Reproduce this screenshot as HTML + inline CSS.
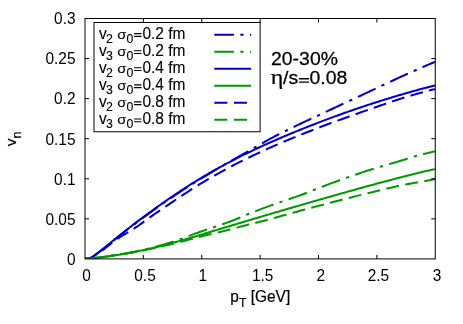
<!DOCTYPE html>
<html><head><meta charset="utf-8"><title>v_n vs p_T</title>
<style>
html,body{margin:0;padding:0;background:#fff;}
svg{display:block;will-change:transform;}
text{font-family:"Liberation Sans",sans-serif;fill:#000;stroke:#000;}
.lg text{font-size:15.60px;stroke-width:0.10px}.lg .s{font-size:12.40px}
.tk text{font-size:15.60px;stroke-width:0.00px}.tk .s{font-size:12.40px}
.bg text{font-size:18.70px;stroke-width:0.25px}
.sym text{font-family:"Liberation Serif",serif;font-size:21.50px;stroke-width:0.25px}
</style></head><body>
<svg width="463" height="324" viewBox="0 0 463 324">
<rect x="0" y="0" width="463" height="324" fill="#fff"/>
<defs><clipPath id="c"><rect x="85.00" y="18.50" width="350.25" height="240.40"/></clipPath></defs>
<g clip-path="url(#c)" fill="none" stroke-width="2.05" stroke-linejoin="round">
<path d="M85.0,258.90 L87.0,258.74 L89.0,258.42 L91.0,257.85 L93.0,256.71 L95.0,255.13 L97.0,253.64 L99.0,252.21 L101.0,250.72 L103.0,249.17 L105.0,247.59 L107.0,245.98 L109.0,244.35 L111.0,242.70 L113.0,241.03 L115.0,239.35 L117.0,237.69 L119.0,236.05 L121.0,234.46 L123.0,232.88 L125.0,231.31 L127.0,229.75 L129.0,228.20 L131.0,226.66 L133.0,225.13 L135.0,223.60 L137.0,222.09 L139.0,220.62 L141.0,219.17 L143.0,217.73 L145.0,216.30 L147.0,214.87 L149.0,213.43 L151.0,211.98 L153.0,210.53 L155.0,209.10 L157.0,207.67 L159.0,206.25 L161.0,204.84 L163.0,203.44 L165.0,202.05 L167.0,200.67 L169.0,199.29 L171.0,197.93 L173.0,196.57 L175.0,195.23 L177.0,193.89 L179.0,192.57 L181.0,191.26 L183.0,189.95 L185.0,188.66 L187.0,187.37 L189.0,186.10 L191.0,184.84 L193.0,183.59 L195.0,182.34 L197.0,181.11 L199.0,179.90 L201.0,178.69 L203.0,177.48 L205.0,176.27 L207.0,175.05 L209.0,173.84 L211.0,172.64 L213.0,171.43 L215.0,170.23 L217.0,169.04 L219.0,167.86 L221.0,166.68 L223.0,165.52 L225.0,164.37 L227.0,163.22 L229.0,162.09 L231.0,160.95 L233.0,159.82 L235.0,158.70 L237.0,157.58 L239.0,156.46 L241.0,155.35 L243.0,154.23 L245.0,153.12 L247.0,152.01 L249.0,150.89 L251.0,149.76 L253.0,148.61 L255.0,147.45 L257.0,146.29 L259.0,145.13 L261.0,143.97 L263.0,142.82 L265.0,141.68 L267.0,140.55 L269.0,139.45 L271.0,138.36 L273.0,137.30 L275.0,136.25 L277.0,135.22 L279.0,134.20 L281.0,133.20 L283.0,132.20 L285.0,131.21 L287.0,130.23 L289.0,129.26 L291.0,128.29 L293.0,127.32 L295.0,126.36 L297.0,125.40 L299.0,124.44 L301.0,123.49 L303.0,122.54 L305.0,121.60 L307.0,120.67 L309.0,119.73 L311.0,118.80 L313.0,117.87 L315.0,116.94 L317.0,116.01 L319.0,115.08 L321.0,114.14 L323.0,113.21 L325.0,112.27 L327.0,111.34 L329.0,110.40 L331.0,109.46 L333.0,108.52 L335.0,107.59 L337.0,106.65 L339.0,105.71 L341.0,104.78 L343.0,103.85 L345.0,102.91 L347.0,101.98 L349.0,101.05 L351.0,100.12 L353.0,99.18 L355.0,98.25 L357.0,97.32 L359.0,96.38 L361.0,95.45 L363.0,94.52 L365.0,93.58 L367.0,92.65 L369.0,91.72 L371.0,90.78 L373.0,89.85 L375.0,88.92 L377.0,87.98 L379.0,87.03 L381.0,86.09 L383.0,85.15 L385.0,84.20 L387.0,83.26 L389.0,82.32 L391.0,81.39 L393.0,80.45 L395.0,79.53 L397.0,78.60 L399.0,77.69 L401.0,76.77 L403.0,75.86 L405.0,74.95 L407.0,74.05 L409.0,73.14 L411.0,72.24 L413.0,71.35 L415.0,70.46 L417.0,69.57 L419.0,68.69 L421.0,67.81 L423.0,66.94 L425.0,66.08 L427.0,65.22 L429.0,64.37 L431.0,63.52 L433.0,62.68 L435.0,61.84 L435.2,61.73" stroke="#0000c8" stroke-dasharray="19.5 6.35 3.3 6.375" stroke-dashoffset="0.8"/>
<path d="M85.0,258.90 L87.0,258.75 L89.0,258.58 L91.0,258.39 L93.0,258.18 L95.0,257.95 L97.0,257.71 L99.0,257.47 L101.0,257.21 L103.0,256.95 L105.0,256.68 L107.0,256.40 L109.0,256.12 L111.0,255.83 L113.0,255.53 L115.0,255.22 L117.0,254.91 L119.0,254.58 L121.0,254.25 L123.0,253.91 L125.0,253.56 L127.0,253.20 L129.0,252.83 L131.0,252.45 L133.0,252.06 L135.0,251.67 L137.0,251.26 L139.0,250.84 L141.0,250.41 L143.0,249.96 L145.0,249.50 L147.0,249.02 L149.0,248.52 L151.0,248.02 L153.0,247.49 L155.0,246.96 L157.0,246.41 L159.0,245.86 L161.0,245.29 L163.0,244.71 L165.0,244.13 L167.0,243.54 L169.0,242.93 L171.0,242.31 L173.0,241.67 L175.0,241.02 L177.0,240.36 L179.0,239.69 L181.0,239.00 L183.0,238.28 L185.0,237.52 L187.0,236.72 L189.0,235.91 L191.0,235.11 L193.0,234.33 L195.0,233.60 L197.0,232.91 L199.0,232.23 L201.0,231.56 L203.0,230.89 L205.0,230.22 L207.0,229.55 L209.0,228.86 L211.0,228.18 L213.0,227.49 L215.0,226.81 L217.0,226.12 L219.0,225.44 L221.0,224.75 L223.0,224.05 L225.0,223.35 L227.0,222.64 L229.0,221.92 L231.0,221.19 L233.0,220.44 L235.0,219.64 L237.0,218.80 L239.0,217.94 L241.0,217.07 L243.0,216.21 L245.0,215.36 L247.0,214.55 L249.0,213.76 L251.0,212.97 L253.0,212.19 L255.0,211.41 L257.0,210.64 L259.0,209.87 L261.0,209.11 L263.0,208.35 L265.0,207.60 L267.0,206.86 L269.0,206.12 L271.0,205.40 L273.0,204.67 L275.0,203.96 L277.0,203.26 L279.0,202.57 L281.0,201.88 L283.0,201.20 L285.0,200.53 L287.0,199.85 L289.0,199.17 L291.0,198.49 L293.0,197.80 L295.0,197.11 L297.0,196.40 L299.0,195.69 L301.0,194.95 L303.0,194.20 L305.0,193.43 L307.0,192.65 L309.0,191.86 L311.0,191.07 L313.0,190.28 L315.0,189.49 L317.0,188.71 L319.0,187.94 L321.0,187.18 L323.0,186.42 L325.0,185.67 L327.0,184.91 L329.0,184.16 L331.0,183.41 L333.0,182.66 L335.0,181.92 L337.0,181.19 L339.0,180.46 L341.0,179.73 L343.0,179.02 L345.0,178.31 L347.0,177.61 L349.0,176.91 L351.0,176.22 L353.0,175.53 L355.0,174.84 L357.0,174.16 L359.0,173.48 L361.0,172.81 L363.0,172.15 L365.0,171.49 L367.0,170.85 L369.0,170.20 L371.0,169.57 L373.0,168.95 L375.0,168.34 L377.0,167.73 L379.0,167.13 L381.0,166.53 L383.0,165.94 L385.0,165.36 L387.0,164.78 L389.0,164.19 L391.0,163.61 L393.0,163.03 L395.0,162.44 L397.0,161.86 L399.0,161.26 L401.0,160.66 L403.0,160.04 L405.0,159.41 L407.0,158.78 L409.0,158.15 L411.0,157.53 L413.0,156.91 L415.0,156.31 L417.0,155.73 L419.0,155.16 L421.0,154.62 L423.0,154.11 L425.0,153.63 L427.0,153.16 L429.0,152.69 L431.0,152.23 L433.0,151.79 L435.0,151.36 L435.2,151.31" stroke="#009a00" stroke-dasharray="19.5 6.35 3.3 6.35" stroke-dashoffset="0.0"/>
<path d="M85.0,258.90 L87.0,258.74 L89.0,258.42 L91.0,257.85 L93.0,256.71 L95.0,255.08 L97.0,253.47 L99.0,251.94 L101.0,250.40 L103.0,248.83 L105.0,247.22 L107.0,245.59 L109.0,243.95 L111.0,242.31 L113.0,240.67 L115.0,239.05 L117.0,237.44 L119.0,235.84 L121.0,234.26 L123.0,232.68 L125.0,231.11 L127.0,229.55 L129.0,228.00 L131.0,226.46 L133.0,224.93 L135.0,223.40 L137.0,221.88 L139.0,220.37 L141.0,218.87 L143.0,217.37 L145.0,215.88 L147.0,214.41 L149.0,212.94 L151.0,211.47 L153.0,210.02 L155.0,208.58 L157.0,207.14 L159.0,205.72 L161.0,204.30 L163.0,202.89 L165.0,201.50 L167.0,200.11 L169.0,198.73 L171.0,197.36 L173.0,196.00 L175.0,194.65 L177.0,193.31 L179.0,191.99 L181.0,190.67 L183.0,189.36 L185.0,188.06 L187.0,186.78 L189.0,185.50 L191.0,184.24 L193.0,182.99 L195.0,181.75 L197.0,180.52 L199.0,179.30 L201.0,178.09 L203.0,176.89 L205.0,175.71 L207.0,174.54 L209.0,173.38 L211.0,172.22 L213.0,171.08 L215.0,169.96 L217.0,168.84 L219.0,167.73 L221.0,166.63 L223.0,165.54 L225.0,164.47 L227.0,163.40 L229.0,162.34 L231.0,161.29 L233.0,160.25 L235.0,159.22 L237.0,158.20 L239.0,157.19 L241.0,156.18 L243.0,155.19 L245.0,154.20 L247.0,153.23 L249.0,152.26 L251.0,151.30 L253.0,150.34 L255.0,149.40 L257.0,148.46 L259.0,147.53 L261.0,146.61 L263.0,145.69 L265.0,144.78 L267.0,143.88 L269.0,142.98 L271.0,142.09 L273.0,141.21 L275.0,140.34 L277.0,139.47 L279.0,138.60 L281.0,137.75 L283.0,136.89 L285.0,136.05 L287.0,135.21 L289.0,134.37 L291.0,133.54 L293.0,132.71 L295.0,131.89 L297.0,131.08 L299.0,130.27 L301.0,129.46 L303.0,128.66 L305.0,127.86 L307.0,127.07 L309.0,126.28 L311.0,125.49 L313.0,124.71 L315.0,123.93 L317.0,123.16 L319.0,122.39 L321.0,121.63 L323.0,120.87 L325.0,120.12 L327.0,119.37 L329.0,118.62 L331.0,117.88 L333.0,117.14 L335.0,116.41 L337.0,115.68 L339.0,114.96 L341.0,114.24 L343.0,113.52 L345.0,112.81 L347.0,112.11 L349.0,111.40 L351.0,110.71 L353.0,110.01 L355.0,109.32 L357.0,108.64 L359.0,107.96 L361.0,107.28 L363.0,106.61 L365.0,105.95 L367.0,105.28 L369.0,104.63 L371.0,103.97 L373.0,103.32 L375.0,102.68 L377.0,102.04 L379.0,101.40 L381.0,100.77 L383.0,100.14 L385.0,99.52 L387.0,98.90 L389.0,98.29 L391.0,97.68 L393.0,97.07 L395.0,96.47 L397.0,95.88 L399.0,95.28 L401.0,94.70 L403.0,94.11 L405.0,93.53 L407.0,92.96 L409.0,92.39 L411.0,91.83 L413.0,91.26 L415.0,90.71 L417.0,90.16 L419.0,89.61 L421.0,89.07 L423.0,88.53 L425.0,87.99 L427.0,87.46 L429.0,86.94 L431.0,86.42 L433.0,85.90 L435.0,85.39 L435.2,85.32" stroke="#0000c8"/>
<path d="M85.0,258.90 L87.0,258.75 L89.0,258.58 L91.0,258.39 L93.0,258.18 L95.0,257.96 L97.0,257.72 L99.0,257.48 L101.0,257.23 L103.0,256.97 L105.0,256.71 L107.0,256.44 L109.0,256.16 L111.0,255.87 L113.0,255.58 L115.0,255.28 L117.0,254.98 L119.0,254.66 L121.0,254.34 L123.0,254.01 L125.0,253.67 L127.0,253.32 L129.0,252.96 L131.0,252.59 L133.0,252.22 L135.0,251.83 L137.0,251.44 L139.0,251.03 L141.0,250.62 L143.0,250.19 L145.0,249.76 L147.0,249.31 L149.0,248.86 L151.0,248.40 L153.0,247.93 L155.0,247.45 L157.0,246.96 L159.0,246.46 L161.0,245.96 L163.0,245.45 L165.0,244.93 L167.0,244.41 L169.0,243.87 L171.0,243.34 L173.0,242.79 L175.0,242.24 L177.0,241.69 L179.0,241.13 L181.0,240.57 L183.0,240.00 L185.0,239.42 L187.0,238.85 L189.0,238.26 L191.0,237.68 L193.0,237.09 L195.0,236.50 L197.0,235.91 L199.0,235.31 L201.0,234.71 L203.0,234.11 L205.0,233.51 L207.0,232.91 L209.0,232.30 L211.0,231.70 L213.0,231.09 L215.0,230.49 L217.0,229.88 L219.0,229.28 L221.0,228.67 L223.0,228.07 L225.0,227.46 L227.0,226.86 L229.0,226.26 L231.0,225.66 L233.0,225.06 L235.0,224.46 L237.0,223.86 L239.0,223.26 L241.0,222.66 L243.0,222.06 L245.0,221.47 L247.0,220.87 L249.0,220.28 L251.0,219.68 L253.0,219.09 L255.0,218.50 L257.0,217.90 L259.0,217.31 L261.0,216.72 L263.0,216.13 L265.0,215.54 L267.0,214.95 L269.0,214.36 L271.0,213.77 L273.0,213.19 L275.0,212.60 L277.0,212.01 L279.0,211.43 L281.0,210.84 L283.0,210.26 L285.0,209.68 L287.0,209.09 L289.0,208.51 L291.0,207.93 L293.0,207.35 L295.0,206.77 L297.0,206.19 L299.0,205.61 L301.0,205.03 L303.0,204.45 L305.0,203.87 L307.0,203.29 L309.0,202.72 L311.0,202.14 L313.0,201.57 L315.0,200.99 L317.0,200.42 L319.0,199.84 L321.0,199.27 L323.0,198.70 L325.0,198.12 L327.0,197.55 L329.0,196.98 L331.0,196.41 L333.0,195.84 L335.0,195.27 L337.0,194.71 L339.0,194.14 L341.0,193.57 L343.0,193.01 L345.0,192.45 L347.0,191.88 L349.0,191.32 L351.0,190.76 L353.0,190.20 L355.0,189.65 L357.0,189.09 L359.0,188.54 L361.0,187.98 L363.0,187.43 L365.0,186.88 L367.0,186.33 L369.0,185.78 L371.0,185.24 L373.0,184.70 L375.0,184.15 L377.0,183.61 L379.0,183.08 L381.0,182.54 L383.0,182.01 L385.0,181.47 L387.0,180.94 L389.0,180.42 L391.0,179.89 L393.0,179.37 L395.0,178.85 L397.0,178.33 L399.0,177.81 L401.0,177.30 L403.0,176.79 L405.0,176.28 L407.0,175.77 L409.0,175.27 L411.0,174.76 L413.0,174.26 L415.0,173.77 L417.0,173.28 L419.0,172.79 L421.0,172.30 L423.0,171.81 L425.0,171.33 L427.0,170.85 L429.0,170.38 L431.0,169.90 L433.0,169.44 L435.0,168.97 L435.2,168.91" stroke="#009a00"/>
<path d="M85.0,258.90 L87.0,258.74 L89.0,258.42 L91.0,257.85 L93.0,256.71 L95.0,255.23 L97.0,253.96 L99.0,252.75 L101.0,251.36 L103.0,249.87 L105.0,248.33 L107.0,246.77 L109.0,245.20 L111.0,243.66 L113.0,242.16 L115.0,240.69 L117.0,239.25 L119.0,237.85 L121.0,236.52 L123.0,235.25 L125.0,234.03 L127.0,232.84 L129.0,231.66 L131.0,230.47 L133.0,229.25 L135.0,227.99 L137.0,226.67 L139.0,225.27 L141.0,223.82 L143.0,222.37 L145.0,220.92 L147.0,219.48 L149.0,218.04 L151.0,216.60 L153.0,215.18 L155.0,213.78 L157.0,212.39 L159.0,211.03 L161.0,209.68 L163.0,208.34 L165.0,207.00 L167.0,205.66 L169.0,204.32 L171.0,202.96 L173.0,201.60 L175.0,200.24 L177.0,198.90 L179.0,197.56 L181.0,196.23 L183.0,194.90 L185.0,193.59 L187.0,192.28 L189.0,190.99 L191.0,189.71 L193.0,188.44 L195.0,187.18 L197.0,185.93 L199.0,184.70 L201.0,183.48 L203.0,182.28 L205.0,181.08 L207.0,179.90 L209.0,178.73 L211.0,177.56 L213.0,176.41 L215.0,175.27 L217.0,174.14 L219.0,173.03 L221.0,171.92 L223.0,170.82 L225.0,169.73 L227.0,168.66 L229.0,167.59 L231.0,166.53 L233.0,165.49 L235.0,164.45 L237.0,163.42 L239.0,162.40 L241.0,161.40 L243.0,160.40 L245.0,159.41 L247.0,158.43 L249.0,157.46 L251.0,156.50 L253.0,155.54 L255.0,154.60 L257.0,153.66 L259.0,152.73 L261.0,151.81 L263.0,150.89 L265.0,149.98 L267.0,149.08 L269.0,148.18 L271.0,147.29 L273.0,146.41 L275.0,145.54 L277.0,144.67 L279.0,143.80 L281.0,142.95 L283.0,142.09 L285.0,141.25 L287.0,140.41 L289.0,139.57 L291.0,138.74 L293.0,137.91 L295.0,137.09 L297.0,136.28 L299.0,135.47 L301.0,134.66 L303.0,133.86 L305.0,133.06 L307.0,132.27 L309.0,131.48 L311.0,130.69 L313.0,129.91 L315.0,129.13 L317.0,128.36 L319.0,127.59 L321.0,126.83 L323.0,126.07 L325.0,125.32 L327.0,124.57 L329.0,123.82 L331.0,123.08 L333.0,122.34 L335.0,121.61 L337.0,120.88 L339.0,120.16 L341.0,119.44 L343.0,118.72 L345.0,118.01 L347.0,117.30 L349.0,116.59 L351.0,115.88 L353.0,115.16 L355.0,114.45 L357.0,113.73 L359.0,113.02 L361.0,112.31 L363.0,111.60 L365.0,110.89 L367.0,110.19 L369.0,109.49 L371.0,108.79 L373.0,108.10 L375.0,107.41 L377.0,106.71 L379.0,106.01 L381.0,105.31 L383.0,104.62 L385.0,103.92 L387.0,103.23 L389.0,102.55 L391.0,101.87 L393.0,101.20 L395.0,100.54 L397.0,99.90 L399.0,99.26 L401.0,98.63 L403.0,98.01 L405.0,97.39 L407.0,96.77 L409.0,96.16 L411.0,95.56 L413.0,94.96 L415.0,94.38 L417.0,93.80 L419.0,93.23 L421.0,92.67 L423.0,92.13 L425.0,91.59 L427.0,91.06 L429.0,90.54 L431.0,90.02 L433.0,89.50 L435.0,88.99 L435.2,88.92" stroke="#0000c8" stroke-dasharray="12.95 6.35" stroke-dashoffset="0.1"/>
<path d="M85.0,258.90 L87.0,258.75 L89.0,258.58 L91.0,258.39 L93.0,258.19 L95.0,257.97 L97.0,257.73 L99.0,257.49 L101.0,257.25 L103.0,257.00 L105.0,256.74 L107.0,256.47 L109.0,256.20 L111.0,255.92 L113.0,255.64 L115.0,255.35 L117.0,255.05 L119.0,254.74 L121.0,254.43 L123.0,254.11 L125.0,253.78 L127.0,253.44 L129.0,253.09 L131.0,252.74 L133.0,252.37 L135.0,252.00 L137.0,251.62 L139.0,251.23 L141.0,250.83 L143.0,250.42 L145.0,250.01 L147.0,249.59 L149.0,249.17 L151.0,248.75 L153.0,248.31 L155.0,247.88 L157.0,247.43 L159.0,246.99 L161.0,246.53 L163.0,246.07 L165.0,245.60 L167.0,245.13 L169.0,244.65 L171.0,244.16 L173.0,243.67 L175.0,243.18 L177.0,242.68 L179.0,242.18 L181.0,241.67 L183.0,241.16 L185.0,240.66 L187.0,240.15 L189.0,239.63 L191.0,239.12 L193.0,238.61 L195.0,238.09 L197.0,237.58 L199.0,237.07 L201.0,236.56 L203.0,236.05 L205.0,235.56 L207.0,235.07 L209.0,234.59 L211.0,234.11 L213.0,233.64 L215.0,233.16 L217.0,232.68 L219.0,232.20 L221.0,231.71 L223.0,231.22 L225.0,230.71 L227.0,230.20 L229.0,229.69 L231.0,229.18 L233.0,228.67 L235.0,228.15 L237.0,227.63 L239.0,227.12 L241.0,226.60 L243.0,226.08 L245.0,225.56 L247.0,225.05 L249.0,224.54 L251.0,224.03 L253.0,223.52 L255.0,223.01 L257.0,222.49 L259.0,221.98 L261.0,221.47 L263.0,220.95 L265.0,220.42 L267.0,219.90 L269.0,219.37 L271.0,218.83 L273.0,218.29 L275.0,217.74 L277.0,217.20 L279.0,216.64 L281.0,216.09 L283.0,215.54 L285.0,214.98 L287.0,214.42 L289.0,213.87 L291.0,213.31 L293.0,212.76 L295.0,212.21 L297.0,211.66 L299.0,211.11 L301.0,210.57 L303.0,210.02 L305.0,209.48 L307.0,208.94 L309.0,208.40 L311.0,207.86 L313.0,207.33 L315.0,206.79 L317.0,206.26 L319.0,205.72 L321.0,205.19 L323.0,204.66 L325.0,204.13 L327.0,203.60 L329.0,203.08 L331.0,202.55 L333.0,202.03 L335.0,201.51 L337.0,200.99 L339.0,200.47 L341.0,199.95 L343.0,199.44 L345.0,198.92 L347.0,198.41 L349.0,197.90 L351.0,197.39 L353.0,196.89 L355.0,196.38 L357.0,195.88 L359.0,195.38 L361.0,194.88 L363.0,194.38 L365.0,193.89 L367.0,193.39 L369.0,192.90 L371.0,192.42 L373.0,191.93 L375.0,191.44 L377.0,190.96 L379.0,190.48 L381.0,189.99 L383.0,189.52 L385.0,189.04 L387.0,188.57 L389.0,188.10 L391.0,187.64 L393.0,187.19 L395.0,186.74 L397.0,186.30 L399.0,185.86 L401.0,185.44 L403.0,185.04 L405.0,184.64 L407.0,184.26 L409.0,183.88 L411.0,183.52 L413.0,183.15 L415.0,182.79 L417.0,182.44 L419.0,182.08 L421.0,181.73 L423.0,181.37 L425.0,181.01 L427.0,180.65 L429.0,180.30 L431.0,179.95 L433.0,179.60 L435.0,179.25 L435.2,179.21" stroke="#009a00" stroke-dasharray="12.95 6.4" stroke-dashoffset="-0.1"/>
</g>
<g stroke="#000" stroke-width="1" fill="none">
<rect x="85.00" y="18.50" width="350.25" height="240.40"/>
<path d="M143.38,258.90v-4.0 M143.38,18.50v4.0 M201.75,258.90v-4.0 M201.75,18.50v4.0 M260.12,258.90v-4.0 M260.12,18.50v4.0 M318.50,258.90v-4.0 M318.50,18.50v4.0 M376.88,258.90v-4.0 M376.88,18.50v4.0 M85.00,218.83h4.0 M435.25,218.83h-4.0 M85.00,178.77h4.0 M435.25,178.77h-4.0 M85.00,138.70h4.0 M435.25,138.70h-4.0 M85.00,98.63h4.0 M435.25,98.63h-4.0 M85.00,58.57h4.0 M435.25,58.57h-4.0"/>
</g>
<rect x="94.00" y="22.50" width="166.10" height="109.25" fill="#fff" stroke="#000" stroke-width="1"/>
<path d="M214.3,34.8H251.1" stroke="#0000c8" stroke-width="2.05" fill="none" stroke-dasharray="19.6 6.4 3.3 6.4"/>
<path d="M214.3,51.8H251.1" stroke="#009a00" stroke-width="2.05" fill="none" stroke-dasharray="19.6 6.4 3.3 6.4"/>
<path d="M214.3,68.8H251.1" stroke="#0000c8" stroke-width="2.05" fill="none"/>
<path d="M214.3,85.8H251.1" stroke="#009a00" stroke-width="2.05" fill="none"/>
<path d="M214.3,102.8H251.1" stroke="#0000c8" stroke-width="2.05" fill="none" stroke-dasharray="13.1 6.5"/>
<path d="M214.3,119.8H251.1" stroke="#009a00" stroke-width="2.05" fill="none" stroke-dasharray="13.1 6.5"/>
<g class="lg" transform="scale(0.995,1)">
<text y="38.60"><tspan x="99.55">v</tspan><tspan class="s" x="106.63" dy="4.3">2</tspan><tspan class="s" x="127.04">0</tspan><tspan x="143.12" dy="-4.3">0.2 fm</tspan></text>
<path d="M134.72,33.65H142.21 M134.72,36.40H142.21" stroke="#000" stroke-width="1.15" fill="none"/>
<text transform="translate(117.89,38.60) scale(0.95,0.85)" x="0" y="0">σ</text>
<text y="55.66"><tspan x="99.55">v</tspan><tspan class="s" x="106.63" dy="4.3">3</tspan><tspan class="s" x="127.04">0</tspan><tspan x="143.12" dy="-4.3">0.2 fm</tspan></text>
<path d="M134.72,50.71H142.21 M134.72,53.46H142.21" stroke="#000" stroke-width="1.15" fill="none"/>
<text transform="translate(117.89,55.66) scale(0.95,0.85)" x="0" y="0">σ</text>
<text y="72.72"><tspan x="99.55">v</tspan><tspan class="s" x="106.63" dy="4.3">2</tspan><tspan class="s" x="127.04">0</tspan><tspan x="143.12" dy="-4.3">0.4 fm</tspan></text>
<path d="M134.72,67.77H142.21 M134.72,70.52H142.21" stroke="#000" stroke-width="1.15" fill="none"/>
<text transform="translate(117.89,72.72) scale(0.95,0.85)" x="0" y="0">σ</text>
<text y="89.78"><tspan x="99.55">v</tspan><tspan class="s" x="106.63" dy="4.3">3</tspan><tspan class="s" x="127.04">0</tspan><tspan x="143.12" dy="-4.3">0.4 fm</tspan></text>
<path d="M134.72,84.83H142.21 M134.72,87.58H142.21" stroke="#000" stroke-width="1.15" fill="none"/>
<text transform="translate(117.89,89.78) scale(0.95,0.85)" x="0" y="0">σ</text>
<text y="106.84"><tspan x="99.55">v</tspan><tspan class="s" x="106.63" dy="4.3">2</tspan><tspan class="s" x="127.04">0</tspan><tspan x="143.12" dy="-4.3">0.8 fm</tspan></text>
<path d="M134.72,101.89H142.21 M134.72,104.64H142.21" stroke="#000" stroke-width="1.15" fill="none"/>
<text transform="translate(117.89,106.84) scale(0.95,0.85)" x="0" y="0">σ</text>
<text y="123.90"><tspan x="99.55">v</tspan><tspan class="s" x="106.63" dy="4.3">3</tspan><tspan class="s" x="127.04">0</tspan><tspan x="143.12" dy="-4.3">0.8 fm</tspan></text>
<path d="M134.72,118.95H142.21 M134.72,121.70H142.21" stroke="#000" stroke-width="1.15" fill="none"/>
<text transform="translate(117.89,123.90) scale(0.95,0.85)" x="0" y="0">σ</text>
</g>
<g class="bg" transform="scale(1.040,1)">
<text x="260.58" y="64.7">20-30%</text>
<text y="84.3"><tspan x="272.12">/s</tspan><tspan x="297.59">0.08</tspan></text>
<path d="M287.45,78.7H297.26 M287.45,82.1H297.26" stroke="#000" stroke-width="1.4" fill="none"/>
</g>
<g class="sym" transform="translate(270.8,84.3) scale(1.120,1)"><text x="0" y="0">η</text></g>
<g class="tk" transform="scale(0.990,1)">
<text x="87.37" y="280.6" text-anchor="middle">0</text>
<text x="146.46" y="280.6" text-anchor="middle">0.5</text>
<text x="204.95" y="280.6" text-anchor="middle">1</text>
<text x="265.35" y="280.6" text-anchor="middle">1.5</text>
<text x="324.14" y="280.6" text-anchor="middle">2</text>
<text x="382.22" y="280.6" text-anchor="middle">2.5</text>
<text x="441.41" y="280.6" text-anchor="middle">3</text>
<text x="76.31" y="265.10" text-anchor="end">0</text>
<text x="76.31" y="224.68" text-anchor="end">0.05</text>
<text x="76.31" y="184.77" text-anchor="end">0.1</text>
<text x="76.31" y="144.70" text-anchor="end">0.15</text>
<text x="76.31" y="104.23" text-anchor="end">0.2</text>
<text x="76.31" y="64.07" text-anchor="end">0.25</text>
<text x="76.31" y="23.70" text-anchor="end">0.3</text>
<text style="stroke-width:0.2px" x="232.69" y="302.4">p<tspan class="s" dy="4.3">T</tspan><tspan dy="-4.3"> [GeV]</tspan></text>
</g>
<g class="tk" transform="translate(16.3,146.2) rotate(-90)"><text style="stroke-width:0.2px" x="0" y="0" transform="scale(0.99,0.9)">v</text><text style="stroke-width:0.2px" class="s" x="7.75" y="4.5">n</text></g>
</svg>
</body></html>
